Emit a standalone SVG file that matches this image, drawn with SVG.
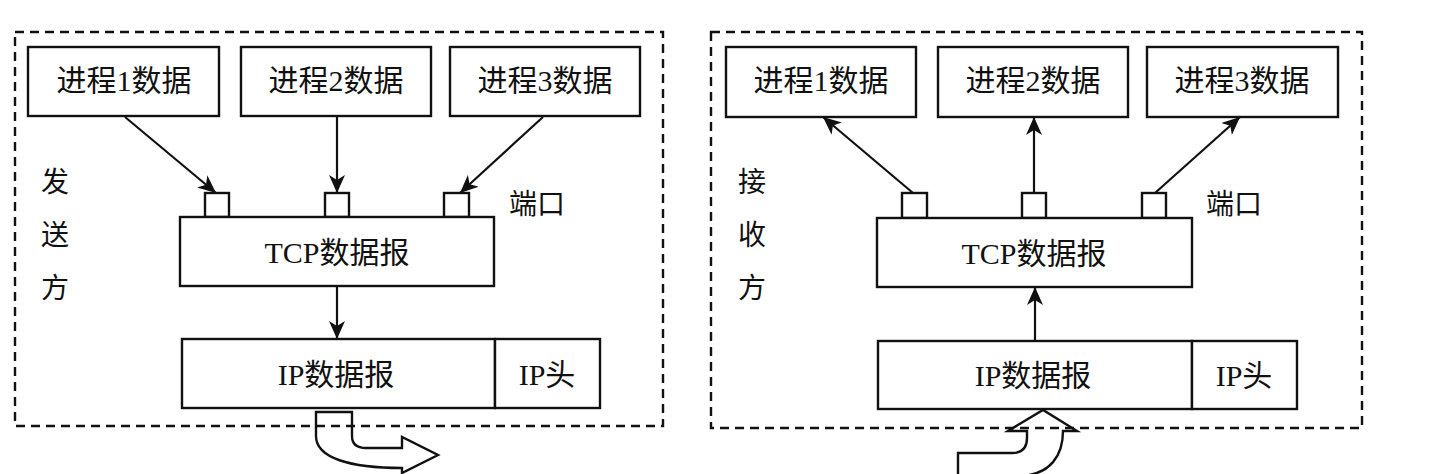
<svg xmlns="http://www.w3.org/2000/svg" width="1435" height="474" viewBox="0 0 1435 474">
<style>
.box{fill:#fff;stroke:#111;stroke-width:2.4}
.dash{fill:none;stroke:#111;stroke-width:2.4;stroke-dasharray:9 6}
.t{font-family:"Liberation Serif","Noto Sans CJK SC",serif;font-size:30px;fill:#111;text-anchor:middle}
.s{font-family:"Liberation Serif","Noto Sans CJK SC",serif;font-size:28px;fill:#111}
.c{stroke:#111;stroke-width:2.2;fill:none}
.big{fill:none;stroke:#111;stroke-width:2.4;stroke-linejoin:miter}
</style>
<defs>
<marker id="ah" markerUnits="userSpaceOnUse" markerWidth="20" markerHeight="16" refX="18" refY="8" orient="auto">
<path d="M0,0 L18,8 L0,16 L5,8 z" fill="#111"/>
</marker>
</defs>
<rect width="1435" height="474" fill="#fff"/>

<g id="sender">
<rect class="dash" x="15" y="32" width="648" height="394"/>
<text class="s" x="41" y="192">发</text>
<text class="s" x="41" y="245">送</text>
<text class="s" x="41" y="298">方</text>
<g id="s-p1"><rect class="box" x="28" y="47" width="191" height="69"/><text class="t" x="124" y="91">进程1数据</text></g>
<g id="s-p2"><rect class="box" x="241" y="47" width="190" height="69"/><text class="t" x="336" y="91">进程2数据</text></g>
<g id="s-p3"><rect class="box" x="450" y="47" width="190" height="69"/><text class="t" x="545" y="91">进程3数据</text></g>
<g id="s-ports">
<rect class="box" x="205" y="193" width="24" height="24"/>
<rect class="box" x="325" y="193" width="24" height="24"/>
<rect class="box" x="444" y="193" width="25" height="24"/>
<text class="s" x="509" y="214">端口</text>
</g>
<g id="s-tcp"><rect class="box" x="180" y="217" width="314" height="69"/><text class="t" x="337" y="263">TCP数据报</text></g>
<g id="s-ip"><rect class="box" x="182" y="339" width="313" height="69"/><text class="t" x="336" y="385">IP数据报</text></g>
<g id="s-iph"><rect class="box" x="495" y="339" width="105" height="69"/><text class="t" x="547" y="385">IP头</text></g>
</g>

<g id="receiver">
<rect class="dash" x="711" y="32" width="651" height="396"/>
<text class="s" x="738" y="192">接</text>
<text class="s" x="738" y="245">收</text>
<text class="s" x="738" y="298">方</text>
<g id="r-p1"><rect class="box" x="726" y="47" width="190" height="70"/><text class="t" x="821" y="91">进程1数据</text></g>
<g id="r-p2"><rect class="box" x="938" y="47" width="190" height="70"/><text class="t" x="1033" y="91">进程2数据</text></g>
<g id="r-p3"><rect class="box" x="1147" y="47" width="191" height="70"/><text class="t" x="1242" y="91">进程3数据</text></g>
<g id="r-ports">
<rect class="box" x="902" y="193" width="25" height="25"/>
<rect class="box" x="1022" y="193" width="24" height="25"/>
<rect class="box" x="1142" y="193" width="24" height="25"/>
<text class="s" x="1206" y="214">端口</text>
</g>
<g id="r-tcp"><rect class="box" x="877" y="218" width="315" height="69"/><text class="t" x="1034" y="264">TCP数据报</text></g>
<g id="r-ip"><rect class="box" x="878" y="341" width="314" height="68"/><text class="t" x="1033" y="386">IP数据报</text></g>
<g id="r-iph"><rect class="box" x="1192" y="341" width="105" height="68"/><text class="t" x="1244" y="386">IP头</text></g>
</g>

<g id="connectors">
<line class="c" x1="125" y1="117" x2="216" y2="193" marker-end="url(#ah)"/>
<line class="c" x1="337" y1="117" x2="337" y2="193" marker-end="url(#ah)"/>
<line class="c" x1="543" y1="117" x2="460" y2="193" marker-end="url(#ah)"/>
<line class="c" x1="337" y1="286" x2="337" y2="339" marker-end="url(#ah)"/>
<line class="c" x1="913" y1="193" x2="823" y2="117" marker-end="url(#ah)"/>
<line class="c" x1="1034" y1="193" x2="1034" y2="117" marker-end="url(#ah)"/>
<line class="c" x1="1155" y1="193" x2="1240" y2="117" marker-end="url(#ah)"/>
<line class="c" x1="1035" y1="341" x2="1035" y2="287" marker-end="url(#ah)"/>
<path class="big" d="M316,412 L352,412 L352,436 Q352,448 366,448 L402,448 L402,437 L438,455 L402,473 L402,468 C350,468 316,458 316,436 Z"/>
<path class="big" d="M958,480 L958,453 L1012,453 Q1027,453 1027,438 L1027,431 L1008,431 L1043,410 L1077,431 L1063,431 C1063,456 1050,474 1022,476 L1022,480"/>
</g>
</svg>
